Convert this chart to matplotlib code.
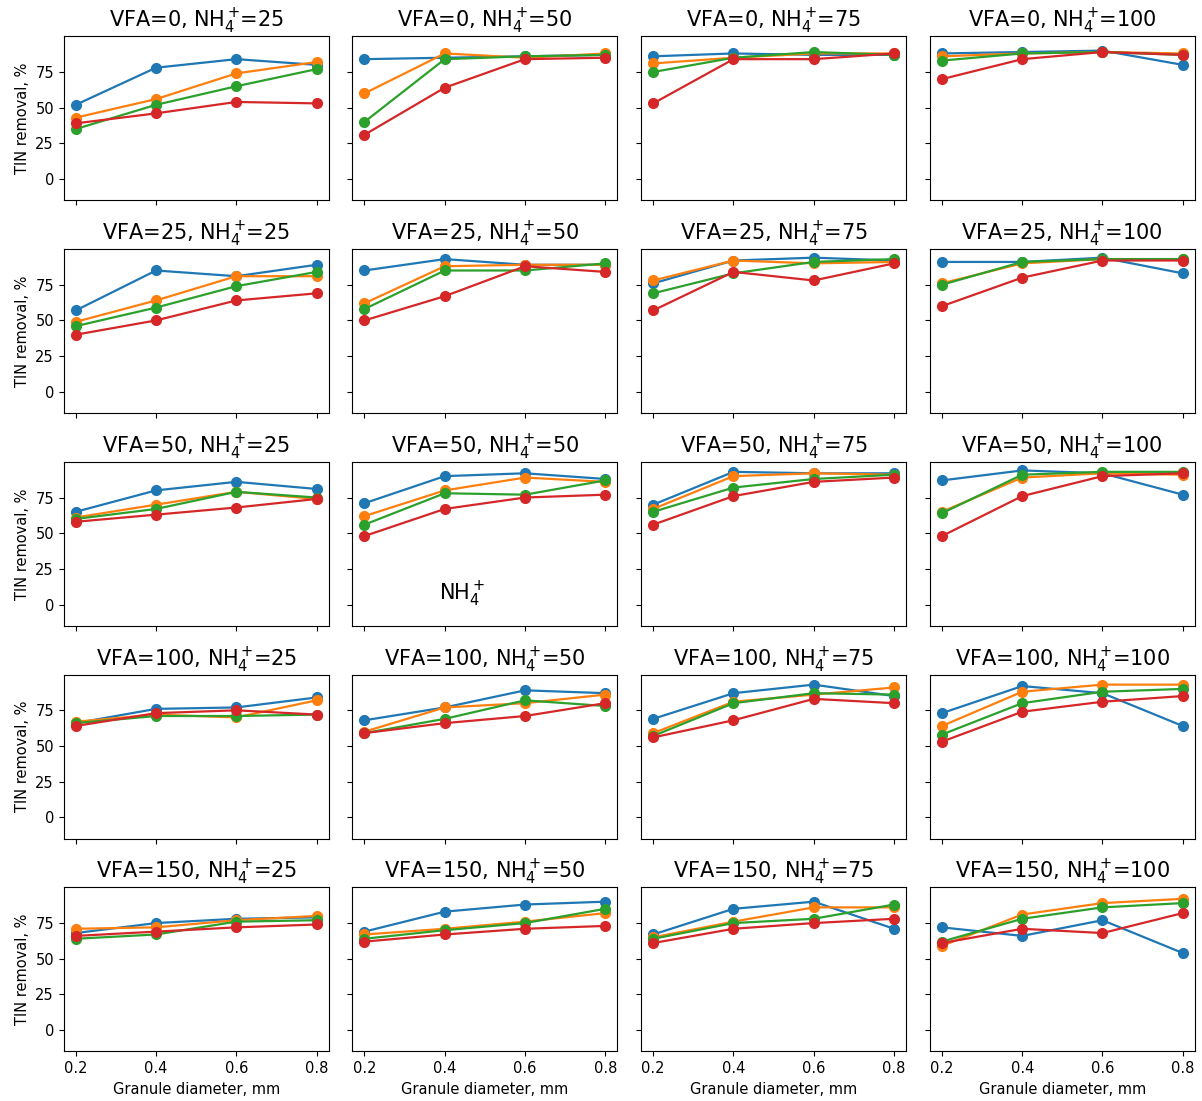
import matplotlib
matplotlib.use('Agg')
import matplotlib.pyplot as plt
import numpy as np

# Granule diameter (mm) on the x axis
diameters = [0.2, 0.4, 0.6, 0.8]
vfa_levels = [0, 25, 50, 100, 150]
nh4_levels = [25, 50, 75, 100]
y_ticks = [0, 25, 50, 75]

# TIN removal (%) per panel, rows = VFA level, columns = NH4+ level
blue_vals = [
    [[52, 78, 84, 80], [84, 85, 86, 87], [86, 88, 87, 87], [88, 89, 90, 80]],
    [[57, 85, 81, 89], [85, 93, 89, 89], [76, 92, 94, 92], [91, 91, 94, 83]],
    [[65, 80, 86, 81], [71, 90, 92, 88], [70, 93, 92, 92], [87, 94, 92, 77]],
    [[66, 76, 77, 84], [68, 77, 89, 87], [69, 87, 93, 85], [73, 92, 87, 64]],
    [[68, 75, 78, 79], [69, 83, 88, 90], [67, 85, 90, 71], [72, 66, 77, 54]],
]
orange_vals = [
    [[43, 56, 74, 82], [60, 88, 85, 88], [81, 85, 88, 88], [86, 88, 89, 88]],
    [[49, 64, 81, 81], [62, 88, 89, 89], [78, 92, 90, 91], [76, 90, 93, 93]],
    [[61, 70, 79, 74], [62, 80, 89, 86], [67, 90, 92, 91], [65, 89, 92, 91]],
    [[67, 72, 70, 82], [60, 77, 80, 86], [59, 81, 86, 91], [64, 88, 93, 93]],
    [[71, 72, 77, 80], [67, 71, 76, 82], [65, 76, 86, 86], [59, 81, 89, 92]],
]
green_vals = [
    [[35, 52, 65, 77], [40, 84, 86, 87], [75, 85, 89, 87], [83, 88, 89, 87]],
    [[46, 59, 74, 84], [58, 85, 85, 90], [69, 83, 91, 93], [75, 91, 93, 93]],
    [[60, 67, 79, 75], [56, 78, 77, 87], [65, 82, 88, 91], [64, 91, 93, 93]],
    [[66, 71, 71, 72], [59, 69, 82, 78], [57, 80, 87, 86], [58, 80, 88, 90]],
    [[64, 67, 76, 77], [64, 70, 75, 85], [64, 75, 78, 88], [62, 78, 86, 89]],
]
red_vals = [
    [[39, 46, 54, 53], [31, 64, 84, 85], [53, 84, 84, 88], [70, 84, 89, 87]],
    [[40, 50, 64, 69], [50, 67, 88, 84], [57, 84, 78, 90], [60, 80, 92, 92]],
    [[58, 63, 68, 74], [48, 67, 75, 77], [56, 76, 86, 89], [48, 76, 90, 92]],
    [[64, 73, 75, 72], [59, 66, 71, 80], [56, 68, 83, 80], [53, 74, 81, 85]],
    [[66, 69, 72, 74], [62, 67, 71, 73], [61, 71, 75, 78], [61, 71, 68, 82]],
]
series = [blue_vals, orange_vals, green_vals, red_vals]
colors = ['tab:blue', 'tab:orange', 'tab:green', 'tab:red']


def main():
    fig, axes = plt.subplots(5, 4, figsize=(12.02, 11.01), dpi=100,
                             sharex=True, sharey=True)
    fig.subplots_adjust(left=0.053, right=0.994, top=0.967, bottom=0.045,
                        wspace=0.09, hspace=0.297)

    for i, vfa in enumerate(vfa_levels):
        for j, nh4 in enumerate(nh4_levels):
            ax = axes[i, j]
            for vals, c in zip(series, colors):
                ax.plot(diameters, vals[i][j], '-o', color=c,
                        linewidth=1.6, markersize=7)
            # negative thin space pulls "=" back against the superscript
            ax.set_title(f'VFA={vfa}, NH$_4^+\\!$={nh4}', fontsize=15)
            ax.tick_params(labelsize=10.5)
            if j == 0:
                ax.set_ylabel('TIN removal, %', fontsize=10.5)
            if i == len(vfa_levels) - 1:
                ax.set_xlabel('Granule diameter, mm', fontsize=10.5)

    axes[0, 0].set_ylim(-15, 100)
    axes[0, 0].set_yticks(y_ticks)
    axes[0, 0].set_xticks(diameters)

    # stray label left inside one panel
    axes[2, 1].text(0.385, 3, 'NH$_4^+$', fontsize=15)

    plt.savefig('out.png')


if __name__ == "__main__":
    main()
